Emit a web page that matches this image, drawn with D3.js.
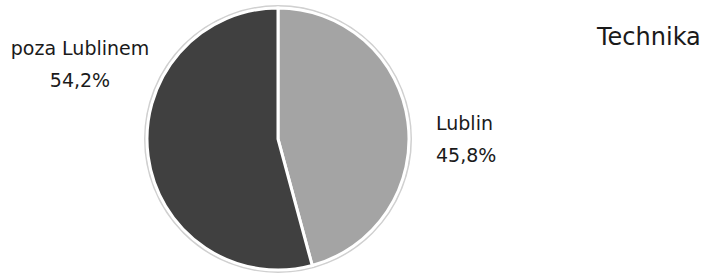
<!DOCTYPE html>
<html>
<head>
<meta charset="utf-8">
<script src="https://cdn.jsdelivr.net/npm/d3@7"></script>
<style>
  body { margin: 0; background: #fff; }
  text { font-family: "DejaVu Sans", sans-serif; fill: #1a1a1a; }
</style>
</head>
<body>
<div id="chart"></div>
<script>
// Technika - pie chart Lublin vs poza Lublinem

const categories = ["Lublin", "poza Lublinem"];
const values = [45.8, 54.2];
const valueLabels = ["45,8%", "54,2%"];
const chartTitle = "Technika";

const width = 710, height = 275;
const cx = 278, cy = 139, radius = 131;

const svg = d3.select("#chart")
  .append("svg")
    .attr("width", width)
    .attr("height", height);

const color = d3.scaleOrdinal()
  .domain(categories)
  .range(["#a4a4a4", "#404040"]);

const pie = d3.pie().sort(null).value(d => d.value);
const arc = d3.arc().innerRadius(0).outerRadius(radius);

const data = categories.map((c, i) => ({ name: c, value: values[i], label: valueLabels[i] }));

const g = svg.append("g")
  .attr("transform", `translate(${cx},${cy})`);

// faint outer rim like the scanned shadow
g.append("circle")
  .attr("r", radius + 2)
  .attr("fill", "none")
  .attr("stroke", "#d0d0d0")
  .attr("stroke-width", 2);

g.selectAll("path.slice")
  .data(pie(data))
  .enter()
  .append("path")
    .attr("class", "slice")
    .attr("d", arc)
    .attr("fill", d => color(d.data.name))
    .attr("stroke", "#fff")
    .attr("stroke-width", 3);

// labels
const labelPos = {
  "Lublin": { x: 436, y: 130, anchor: "start" },
  "poza Lublinem": { x: 80, y: 55, anchor: "middle" }
};

data.forEach(d => {
  const p = labelPos[d.name];
  const t = svg.append("text")
    .attr("x", p.x)
    .attr("y", p.y)
    .attr("text-anchor", p.anchor)
    .attr("font-size", "19px");
  t.append("tspan").attr("x", p.x).text(d.name);
  t.append("tspan").attr("x", p.x).attr("dy", 32).text(d.label);
});

svg.append("text")
  .attr("x", 597)
  .attr("y", 45)
  .attr("font-size", "24px")
  .text(chartTitle);
</script>
</body>
</html>
